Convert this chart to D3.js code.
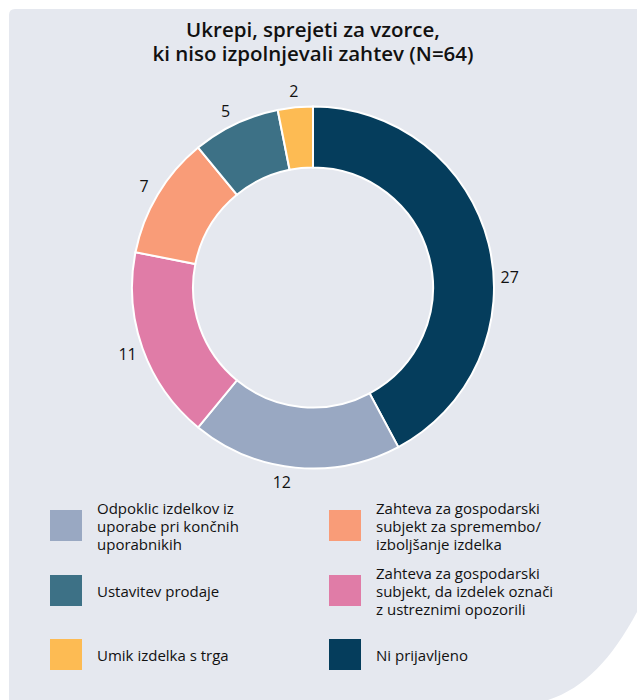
<!DOCTYPE html>
<html>
<head>
<meta charset="utf-8">
<script src="https://cdn.jsdelivr.net/npm/d3@7.9.0/dist/d3.min.js"></script>
<style>
  html, body { margin: 0; padding: 0; background: #fff; }
  svg { display: block; font-family: "Open Sans", sans-serif; }
</style>
</head>
<body>
<svg id="chart" width="637" height="700"></svg>
<script>
// data
const categories = [
  'Ni prijavljeno',
  'Odpoklic izdelkov iz uporabe pri končnih uporabnikih',
  'Zahteva za gospodarski subjekt, da izdelek označi z ustreznimi opozorili',
  'Zahteva za gospodarski subjekt za spremembo/izboljšanje izdelka',
  'Ustavitev prodaje',
  'Umik izdelka s trga'
];
const values = [27, 12, 11, 7, 5, 2];
const colors = ['#053d5c', '#99a8c2', '#e07ca7', '#f99c78', '#3d7186', '#fdbb53'];
const titleLines = ['Ukrepi, sprejeti za vzorce,', 'ki niso izpolnjevali zahtev (N=64)'];

// legend layout: [category index, lines]
const legendItems = [
  [1, ['Odpoklic izdelkov iz', 'uporabe pri končnih', 'uporabnikih']],
  [3, ['Zahteva za gospodarski', 'subjekt za spremembo/', 'izboljšanje izdelka']],
  [4, ['Ustavitev prodaje']],
  [2, ['Zahteva za gospodarski', 'subjekt, da izdelek označi', 'z ustreznimi opozorili']],
  [5, ['Umik izdelka s trga']],
  [0, ['Ni prijavljeno']]
];

const svg = d3.select('#chart');

// background panel with the curved cut bottom right
svg.append('path')
  .attr('d', 'M9,15 Q9,9 15,9 L637,9 L637,612 C612,658 585,688 548,700 L9,700 Z')
  .attr('fill', '#e5e8ef');

// title
svg.append('text')
  .attr('x', 313)
  .attr('y', 37)
  .attr('text-anchor', 'middle')
  .attr('font-size', 20.5)
  .attr('font-weight', 600)
  .attr('fill', '#111')
  .selectAll('tspan')
  .data(titleLines)
  .join('tspan')
  .attr('x', 313)
  .attr('dy', (d, i) => i === 0 ? 0 : 24)
  .text(d => d);

// donut
const cx = 313, cy = 287.5;
const g = svg.append('g').attr('transform', `translate(${cx},${cy})`);

const pie = d3.pie().sort(null).value(d => d);
const arcs = pie(values);

const arc = d3.arc().innerRadius(120).outerRadius(181);
g.selectAll('path.slice')
  .data(arcs)
  .join('path')
  .attr('class', 'slice')
  .attr('d', arc)
  .attr('fill', (d, i) => colors[i])
  .attr('stroke', '#fff')
  .attr('stroke-width', 2);

// value labels, outside the ring (a couple nudged the way the original tool placed them)
const labelShift = [11, 3.5, 0, 0, -1, 0];
const labelR = 197;
g.selectAll('text.val')
  .data(arcs)
  .join('text')
  .attr('class', 'val')
  .attr('text-anchor', 'middle')
  .attr('dominant-baseline', 'central')
  .attr('font-size', 16)
  .attr('fill', '#111')
  .attr('x', (d, i) => {
    const a = (d.startAngle + d.endAngle) / 2 + labelShift[i] * Math.PI / 180;
    return labelR * Math.sin(a);
  })
  .attr('y', (d, i) => {
    const a = (d.startAngle + d.endAngle) / 2 + labelShift[i] * Math.PI / 180;
    return -labelR * Math.cos(a);
  })
  .text(d => d.value);

// legend
const colX = [50, 329];
const rowY = [510, 575, 639];
const lg = svg.append('g');
legendItems.forEach((item, k) => {
  const [ci, lines] = item;
  const x = colX[k % 2];
  const y = rowY[Math.floor(k / 2)];
  lg.append('rect')
    .attr('x', x).attr('y', y)
    .attr('width', 32).attr('height', 31)
    .attr('fill', colors[ci]);
  const lineH = 18;
  const top = y + 15.5 - (lines.length - 1) * lineH / 2;
  const t = lg.append('text')
    .attr('font-size', 15)
    .attr('fill', '#111');
  lines.forEach((ln, j) => {
    t.append('tspan')
      .attr('x', x + 47)
      .attr('y', top + j * lineH)
      .attr('dominant-baseline', 'central')
      .text(ln);
  });
});
</script>
</body>
</html>
